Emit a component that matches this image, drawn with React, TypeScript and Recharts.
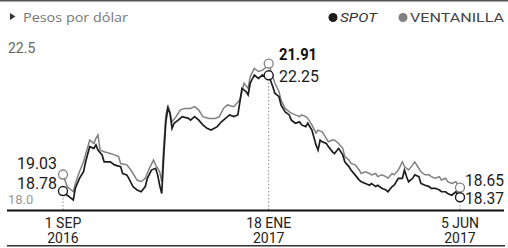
import React from 'react';
import { LineChart, Line, XAxis, YAxis, ReferenceDot, ReferenceLine } from 'recharts';

// Trading-session index (0 = 1 SEP 2016, 100 = 18 ENE 2017, 193 = 5 JUN 2017)
const spotSessions = [0,2,5,6,8,10,11,13,15,16,17,19,20,23,25,28,29,31,32,34,36,38,40,41,43,45,46,47,48,49,50,51,52,53,54,56,58,61,62,64,66,68,70,72,75,77,79,81,83,85,86,87,89,90,91,93,95,97,99,100,102,103,105,106,108,110,111,113,115,116,118,119,121,123,124,125,126,128,129,131,132,134,136,137,139,140,142,144,145,147,149,150,152,153,155,157,158,160,161,163,165,166,167,168,170,171,173,174,176,178,179,181,183,184,186,187,189,191,193];
const spotValues = [18.55,18.43,18.29,18.63,18.92,19.11,19.40,19.84,19.79,19.89,19.74,19.60,19.40,19.40,19.31,19.26,19.06,19.02,18.92,18.68,18.58,18.53,18.68,18.92,19.16,19.21,19.02,18.72,18.48,19.60,20.56,20.95,20.81,20.37,20.52,20.61,20.71,20.66,20.61,20.71,20.61,20.47,20.37,20.32,20.42,20.56,20.66,20.76,20.71,20.76,21.14,21.53,21.44,21.34,21.68,21.92,21.82,21.92,21.82,21.91,21.58,21.39,21.29,21.05,20.85,20.76,20.61,20.52,20.56,20.47,20.42,20.52,20.32,19.89,19.74,20.03,19.98,19.93,19.84,19.69,19.64,19.79,19.60,19.40,19.26,19.16,19.02,18.87,18.82,18.77,18.72,18.77,18.68,18.72,18.63,18.58,18.53,18.68,18.72,18.92,18.92,19.16,18.97,18.82,18.92,19.02,18.97,18.77,18.72,18.68,18.63,18.63,18.58,18.53,18.53,18.48,18.43,18.53,18.37];

const ventSessions = [0,2,5,6,8,10,13,15,16,17,18,20,23,25,27,28,31,33,36,38,40,42,44,45,47,48,49,50,51,52,53,55,57,59,62,64,66,68,71,74,76,78,80,83,86,87,88,90,91,93,95,97,99,100,102,103,105,106,108,110,111,113,115,116,118,119,121,123,124,126,128,129,131,132,134,136,137,139,140,142,144,145,147,149,150,152,153,155,157,158,160,161,163,165,166,168,170,171,173,174,176,178,179,181,183,184,186,187,189,191,193];
const ventValues = [19.03,18.68,18.53,18.77,19.11,19.40,20.03,19.93,20.08,20.18,19.74,19.69,19.64,19.60,19.55,19.35,19.31,19.16,18.87,18.82,18.92,19.21,19.45,19.31,19.11,18.82,19.89,20.76,21.05,20.85,20.56,20.71,20.90,20.95,20.95,21.00,20.90,20.71,20.66,20.66,20.71,20.95,21.05,21.00,21.20,21.44,21.68,21.53,21.87,22.11,22.02,22.06,22.16,22.25,21.87,21.68,21.44,21.19,20.95,20.85,20.81,20.76,20.71,20.76,20.71,20.66,20.47,20.23,20.32,20.27,20.08,19.98,20.03,20.03,19.93,19.79,19.55,19.45,19.35,19.31,19.16,19.06,19.11,19.06,19.02,19.06,18.97,19.02,18.97,18.92,19.06,19.02,19.16,19.40,19.26,19.16,19.31,19.40,19.21,19.11,19.02,19.02,18.97,18.92,18.97,18.87,18.92,18.82,18.77,18.82,18.65];

const tickSessions = [0, 100, 193];
const tickMonths = ['1 SEP', '18 ENE', '5 JUN'];
const tickYears = ['2016', '2017', '2017'];
const yTicks = [18, 22.5];
const yTickLabels = ['18.0', '22.5'];
const title = 'Pesos por dólar';
const seriesNames = ['SPOT', 'VENTANILLA'];
const startLabels = ['19.03', '18.78'];
const peakLabels = ['21.91', '22.25'];
const endLabels = ['18.65', '18.37'];

const spotData = spotSessions.map((s, i) => ({ s, v: spotValues[i] }));
const ventData = ventSessions.map((s, i) => ({ s, v: ventValues[i] }));

const SPOT = '#1c1c1c';
const VENT = '#808080';
const FONT = 'Roboto, "Open Sans", sans-serif';

const lastIdx = (a: number[]) => a.length - 1;
const peakSpotIdx = spotSessions.indexOf(100);
const peakVentIdx = ventSessions.indexOf(100);

const XTick = (props: any) => {
  const { x, y, payload } = props;
  const i = tickSessions.indexOf(payload.value);
  return (
    <g>
      <text x={x} y={y + 18} textAnchor="middle" fontSize={14} fill="#222" fontFamily={FONT}>{tickMonths[i]}</text>
      <text x={x} y={y + 33} textAnchor="middle" fontSize={14} fill="#222" fontFamily={FONT}>{tickYears[i]}</text>
    </g>
  );
};

const YTick = (props: any) => {
  const { y, payload } = props;
  const i = yTicks.indexOf(payload.value);
  const top = payload.value === 22.5;
  return (
    <text x={8} y={y + (top ? -2 : -6)} textAnchor="start" fontSize={top ? 14 : 13} fill={top ? '#666' : '#9a9a9a'} fontFamily={FONT}>
      {yTickLabels[i]}
    </text>
  );
};

export default function App() {
  return (
    <div style={{ position: 'absolute', left: 0, top: 0, width: 508, height: 248, background: '#fff', overflow: 'hidden' }}>
      <LineChart width={508} height={248} margin={{ top: 55, right: 48, bottom: 0, left: 8 }}>
        <XAxis dataKey="s" type="number" domain={[0, 193]} ticks={tickSessions} tick={<XTick />} axisLine={false} tickLine={false} tickSize={0} tickMargin={0} height={38} allowDuplicatedCategory={false} />
        <YAxis type="number" domain={[18, 22.5]} ticks={yTicks} tick={<YTick />} axisLine={false} tickLine={false} width={55} allowDataOverflow />
        <ReferenceLine segment={[{ x: tickSessions[0], y: 18 }, { x: tickSessions[0], y: spotValues[0] }]} stroke="#888" strokeDasharray="1.5 2" />
        <ReferenceLine segment={[{ x: tickSessions[1], y: 18 }, { x: tickSessions[1], y: spotValues[peakSpotIdx] }]} stroke="#888" strokeDasharray="1.5 2" />
        <ReferenceLine segment={[{ x: tickSessions[2], y: 18 }, { x: tickSessions[2], y: spotValues[lastIdx(spotValues)] }]} stroke="#888" strokeDasharray="1.5 2" />
        <Line data={ventData} dataKey="v" type="linear" stroke={VENT} strokeWidth={1.5} dot={false} isAnimationActive={false} />
        <Line data={spotData} dataKey="v" type="linear" stroke={SPOT} strokeWidth={1.7} dot={false} isAnimationActive={false} />
        <ReferenceDot x={ventSessions[0]} y={ventValues[0]} r={4.5} fill="#fff" stroke={VENT} strokeWidth={1.3} />
        <ReferenceDot x={spotSessions[0]} y={spotValues[0]} r={4.5} fill="#fff" stroke={SPOT} strokeWidth={1.4} />
        <ReferenceDot x={ventSessions[peakVentIdx]} y={ventValues[peakVentIdx]} r={4.5} fill="#fff" stroke={VENT} strokeWidth={1.3} />
        <ReferenceDot x={spotSessions[peakSpotIdx]} y={spotValues[peakSpotIdx]} r={4.5} fill="#fff" stroke={SPOT} strokeWidth={1.4} />
        <ReferenceDot x={ventSessions[lastIdx(ventSessions)]} y={ventValues[lastIdx(ventValues)]} r={4.5} fill="#fff" stroke={VENT} strokeWidth={1.3} />
        <ReferenceDot x={spotSessions[lastIdx(spotSessions)]} y={spotValues[lastIdx(spotValues)]} r={4.5} fill="#fff" stroke={SPOT} strokeWidth={1.4} />
      </LineChart>
      <svg width={508} height={248} style={{ position: 'absolute', left: 0, top: 0, pointerEvents: 'none' }}>
        <rect x={0} y={0} width={508} height={1.5} fill="#555" />
        <polygon points="10,13 15.5,16.5 10,20" fill="#333" />
        <text x={23} y={22} fontSize={13} fill="#777" fontFamily='"Open Sans", sans-serif' textLength={105} lengthAdjust="spacingAndGlyphs">{title}</text>
        <circle cx={333} cy={17.5} r={4.5} fill={SPOT} />
        <text x={340} y={22} fontSize={13} fontStyle="italic" fill="#333" fontFamily={FONT} textLength={37} lengthAdjust="spacingAndGlyphs">{seriesNames[0]}</text>
        <circle cx={403} cy={17.5} r={4.5} fill={VENT} />
        <text x={410} y={22} fontSize={13} fill="#444" fontFamily={FONT} textLength={94} lengthAdjust="spacingAndGlyphs">{seriesNames[1]}</text>
        <rect x={7} y={209.5} width={497} height={2} fill="#111" />
        <rect x={7} y={245} width={498} height={1.5} fill="#333" />
        <text x={17} y={169} fontSize={17} fill="#1a1a1a" fontFamily={FONT} textLength={40} lengthAdjust="spacingAndGlyphs">{startLabels[0]}</text>
        <text x={17} y={189} fontSize={17} fill="#1a1a1a" fontFamily={FONT} textLength={40} lengthAdjust="spacingAndGlyphs">{startLabels[1]}</text>
        <text x={279} y={60} fontSize={17} fontWeight={700} fill="#111" fontFamily={FONT} textLength={38} lengthAdjust="spacingAndGlyphs">{peakLabels[0]}</text>
        <text x={279} y={82} fontSize={17} fill="#1a1a1a" fontFamily={FONT} textLength={40} lengthAdjust="spacingAndGlyphs">{peakLabels[1]}</text>
        <text x={465} y={186} fontSize={16} fill="#1a1a1a" fontFamily={FONT} textLength={39} lengthAdjust="spacingAndGlyphs">{endLabels[0]}</text>
        <text x={465} y={204} fontSize={16} fill="#1a1a1a" fontFamily={FONT} textLength={39} lengthAdjust="spacingAndGlyphs">{endLabels[1]}</text>
      </svg>
    </div>
  );
}
